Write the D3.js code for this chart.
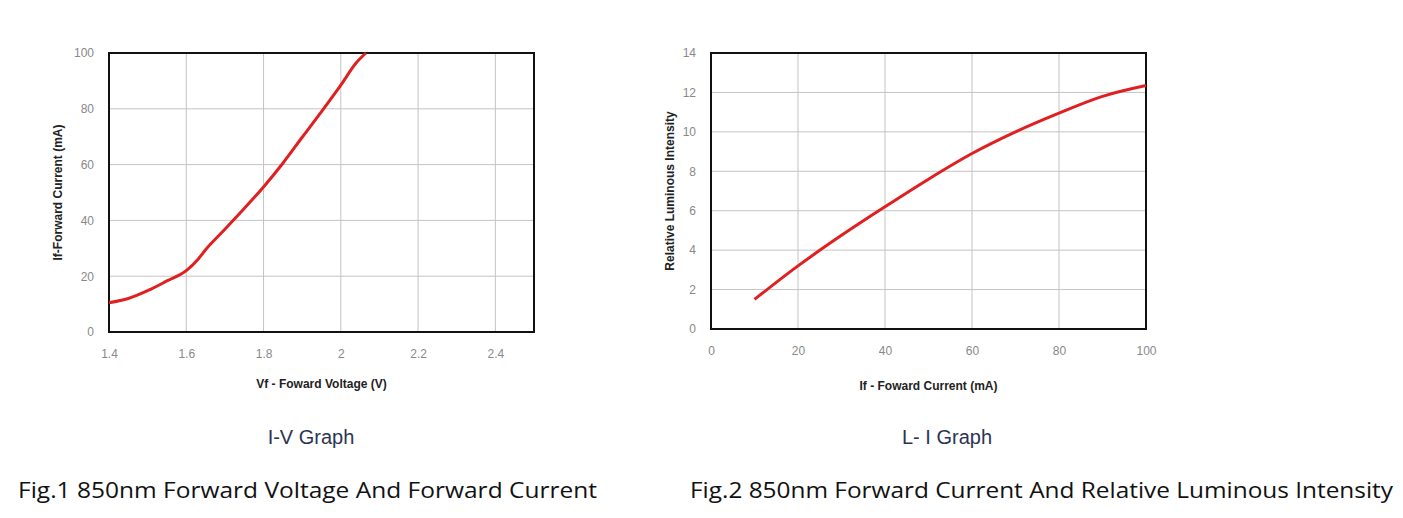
<!DOCTYPE html>
<html><head><meta charset="utf-8">
<script src="https://cdn.jsdelivr.net/npm/d3@7"></script>
<style>body{margin:0;background:#fff}text{font-family:"Liberation Sans",Arial,sans-serif}</style>
</head><body><svg id="c" width="1403" height="518"></svg>
<script>
const ivVoltage=[1.4,1.45,1.5,1.55,1.6,1.63,1.65,1.7,1.75,1.8,1.85,1.9,1.95,2.0,2.04,2.065];
const ivCurrent=[10.5,12,14.8,18.3,22,26,29.5,36.8,44.3,52,60.5,69.8,79,88.5,96.5,100];
const ivXTicks=[1.4,1.6,1.8,2,2.2,2.4];
const ivYTicks=[0,20,40,60,80,100];
const liCurrent=[10,20,30,40,50,60,70,80,90,100];
const liIntensity=[1.5,3.2,4.75,6.2,7.6,8.9,10,10.95,11.8,12.35];
const liXTicks=[0,20,40,60,80,100];
const liYTicks=[0,2,4,6,8,10,12,14];

const svg=d3.select("#c");
function chart(o){
  const x=d3.scaleLinear().domain(o.xd).range([o.l,o.r]);
  const y=d3.scaleLinear().domain(o.yd).range([o.b,o.t]);
  const g=svg.append("g");
  g.selectAll(".gx").data(o.xt).enter().append("line").attr("x1",d=>x(d)).attr("x2",d=>x(d)).attr("y1",o.t).attr("y2",o.b).attr("stroke","#c4c4c4").attr("stroke-width",1);
  g.selectAll(".gy").data(o.yt).enter().append("line").attr("y1",d=>y(d)).attr("y2",d=>y(d)).attr("x1",o.l).attr("x2",o.r).attr("stroke","#c4c4c4").attr("stroke-width",1);
  g.append("rect").attr("x",o.l).attr("y",o.t).attr("width",o.r-o.l).attr("height",o.b-o.t).attr("fill","none").attr("stroke","#111").attr("stroke-width",2);
  const xa=g.append("g").attr("transform",`translate(0,${o.b+12})`).call(d3.axisBottom(x).tickValues(o.xt).tickSize(0).tickFormat(d=>String(d)));
  xa.select(".domain").remove();
  xa.selectAll("text").attr("fill","#888").style("font-size","12px").attr("dy","0.9em");
  const ya=g.append("g").attr("transform",`translate(${o.l-12},0)`).call(d3.axisLeft(y).tickValues(o.yt).tickSize(0).tickFormat(d=>String(d)));
  ya.select(".domain").remove();
  ya.selectAll("text").attr("fill","#888").style("font-size","12px");
  g.append("path").datum(o.xs.map((v,i)=>[v,o.ys[i]])).attr("d",d3.line().x(d=>x(d[0])).y(d=>y(d[1])).curve(d3.curveMonotoneX)).attr("fill","none").attr("stroke","#e02020").attr("stroke-width",3);
  g.append("text").attr("x",(o.l+o.r)/2).attr("y",o.xly).attr("text-anchor","middle").style("font-size","12px").style("font-weight","bold").attr("fill","#222").text(o.xl);
  g.append("text").attr("transform",`translate(${o.yx},${(o.t+o.b)/2}) rotate(-90)`).attr("text-anchor","middle").style("font-size","12px").style("font-weight","bold").attr("fill","#222").text(o.yl);
  g.append("text").attr("x",o.cx).attr("y",444).attr("text-anchor","middle").style("font-size","20px").attr("fill","#2b3553").text(o.sub);
  g.append("text").attr("x",o.fx).attr("y",498).attr("textLength",o.fw).attr("lengthAdjust","spacingAndGlyphs").style("font-size","22px").style("font-family","'Open Sans','DejaVu Sans',sans-serif").attr("fill","#111").text(o.fig);
}
chart({xd:[1.4,2.5],yd:[0,100],l:109,r:534,t:53,b:332,xt:ivXTicks,yt:ivYTicks,xs:ivVoltage,ys:ivCurrent,xly:388,
  xl:"Vf - Foward Voltage (V)",yl:"If-Forward Current (mA)",yx:62,cx:311,sub:"I-V Graph",fx:18,fw:579,fig:"Fig.1 850nm Forward Voltage And Forward Current"});
chart({xd:[0,100],yd:[0,14],l:711,r:1146,t:53,b:329,xt:liXTicks,yt:liYTicks,xs:liCurrent,ys:liIntensity,xly:390,
  xl:"If - Foward Current (mA)",yl:"Relative Luminous Intensity",yx:674,cx:947,sub:"L- I Graph",fx:690,fw:703,fig:"Fig.2 850nm Forward Current And Relative Luminous Intensity"});
</script></body></html>
